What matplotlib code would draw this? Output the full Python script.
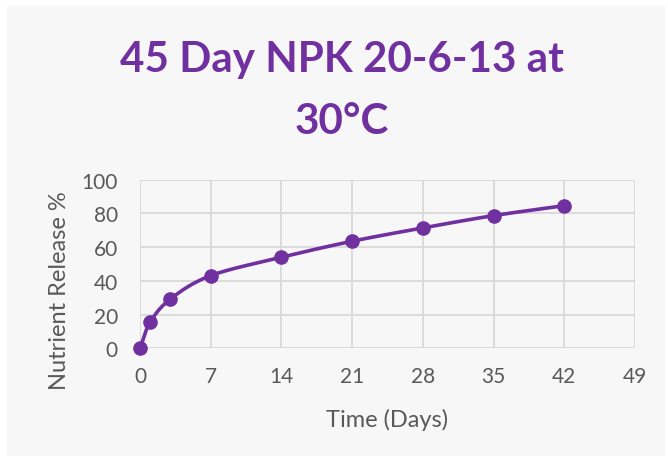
import numpy as np
import matplotlib
matplotlib.use("Agg")
import matplotlib.pyplot as plt
from matplotlib.patches import Rectangle

days = [0, 1, 3, 7, 14, 21, 28, 35, 42]
release = [0, 15.4, 29.2, 43.1, 54.0, 63.5, 71.4, 78.7, 84.6]
x_ticks = [0, 7, 14, 21, 28, 35, 42, 49]
y_ticks = [0, 20, 40, 60, 80, 100]
title = "45 Day NPK 20-6-13 at\n30°C"
purple = "#7030A0"
font = ["Lato", "DejaVu Sans"]

def catmull_rom(x, y, n=30):
    x = np.asarray(x, float); y = np.asarray(y, float)
    px = np.concatenate([[2*x[0]-x[1]], x, [2*x[-1]-x[-2]]])
    py = np.concatenate([[2*y[0]-y[1]], y, [2*y[-1]-y[-2]]])
    xs, ys = [], []
    for i in range(1, len(px)-2):
        t = np.linspace(0, 1, n)
        for arr, out in ((px, xs), (py, ys)):
            p0, p1, p2, p3 = arr[i-1], arr[i], arr[i+1], arr[i+2]
            out.extend(0.5*((2*p1) + (-p0+p2)*t + (2*p0-5*p1+4*p2-p3)*t**2 + (-p0+3*p1-3*p2+p3)*t**3))
    return np.array(xs), np.array(ys)

W, H = 668, 460
fig = plt.figure(figsize=(W/100, H/100), dpi=100)
fig.patch.set_facecolor("white")
fig.patches.append(Rectangle((7/W, 3/H), (W-10)/W, (H-10)/H, transform=fig.transFigure,
                             facecolor="#f7f7f7", edgecolor="none", zorder=-10))

ax = fig.add_axes([140/W, 1-349.3/H, (635-140)/W, (349.3-180.7)/H])
ax.set_facecolor("#f7f7f7")
ax.set_xlim(0, 49)
ax.set_ylim(0, 100)
ax.set_xticks(x_ticks)
ax.set_yticks(y_ticks)
for s in ax.spines.values():
    s.set_visible(False)
ax.grid(True, color="#d9d9d9", linewidth=1.3)
ax.set_axisbelow(True)
ax.tick_params(length=0, labelsize=15, labelcolor="#595959")
ax.tick_params(axis="x", pad=13)
ax.tick_params(axis="y", pad=16)
for lab in ax.get_xticklabels() + ax.get_yticklabels():
    lab.set_family(font)

sx, sy = catmull_rom(days, release)
ax.plot(sx, sy, color=purple, linewidth=2.6, clip_on=False, zorder=3)
ax.plot(days, release, "o", color=purple, markersize=9.5, clip_on=False, zorder=4)

fig.text(387/W, 1-420/H, "Time (Days)", ha="center", va="center", fontsize=17,
         color="#595959", family=font)
fig.text(59/W, 1-291/H, "Nutrient Release %", ha="center", va="center", fontsize=17,
         color="#595959", family=font, rotation=90)
fig.text(342/W, 1-91/H, title, ha="center", va="center", fontsize=30.3, fontweight="bold",
         color=purple, family=font, linespacing=1.8)

fig.savefig("out.png", dpi=100, facecolor=fig.get_facecolor())
